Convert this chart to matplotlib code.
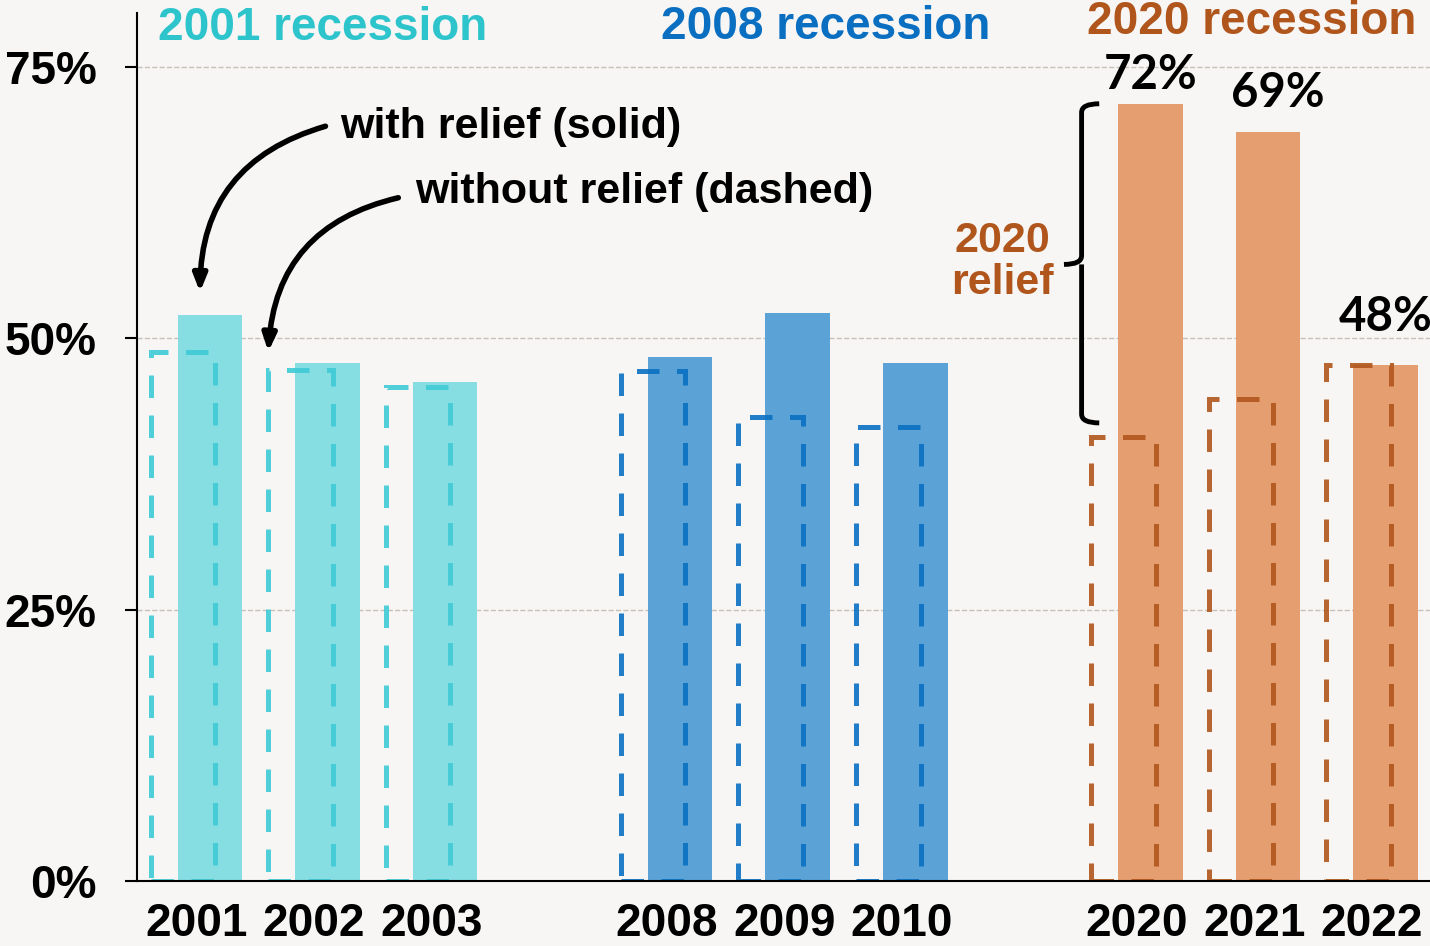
import matplotlib
matplotlib.use("Agg")
import matplotlib.pyplot as plt
from matplotlib.path import Path
from matplotlib.patches import PathPatch

plt.rcParams["font.family"] = ["Liberation Sans", "DejaVu Sans"]

years = ["2001", "2002", "2003", "2008", "2009", "2010", "2020", "2021", "2022"]
with_relief = [52.1, 47.7, 46.0, 48.3, 52.3, 47.7, 71.6, 69.0, 47.5]
without_relief = [48.7, 47.1, 45.5, 47.0, 42.7, 41.8, 40.9, 44.4, 47.5]
groups = ["2001 recession", "2008 recession", "2020 recession"]
top_labels = {"2020": "72%", "2021": "69%", "2022": "48%"}

solid_colors = ["#86DDE2", "#5BA2D6", "#E59E70"]
dash_colors = ["#3FCBD5", "#0A70C3", "#B0561C"]
group_text_colors = ["#2EC4CC", "#0B6FC1", "#B0561C"]

# three bars per recession, one empty slot between groups
x = [0, 1, 2, 4, 5, 6, 8, 9, 10]
off = 0.115
width = 0.55

fig = plt.figure(figsize=(14.3, 9.46), dpi=100)
fig.patch.set_facecolor("#F7F6F4")
ax = fig.add_axes([0.0958, 0.0687, 0.9042, 0.918])
ax.set_facecolor("#F7F6F4")

title_x = [1.07, 5.35, 8.98]
title_y = [78.6, 78.7, 79.1]
for g in range(3):
    idx = range(g * 3, g * 3 + 3)
    xs = [x[i] for i in idx]
    sc = solid_colors[g]
    ax.bar([v + off for v in xs], [with_relief[i] for i in idx], width=width,
           color=sc, zorder=2)
    ax.bar([v - off for v in xs], [without_relief[i] for i in idx], width=width,
           fill=False, edgecolor=dash_colors[g], linewidth=3.6,
           linestyle=(0, (4.5, 3.5)), alpha=0.9, zorder=3)
    ax.text(title_x[g], title_y[g], groups[g],
            color=group_text_colors[g], fontsize=33, fontweight="bold",
            ha="center", va="center")

# value labels on the 2020 bars
label_pad = {"2020": (0, 5), "2021": (7, 12), "2022": (0, 19)}
for i, yr in enumerate(years):
    if yr in top_labels:
        ax.annotate(top_labels[yr], (x[i] + off, with_relief[i]),
                    xytext=label_pad[yr], textcoords="offset points",
                    ha="center", va="bottom", fontsize=34, fontweight="bold",
                    family=["Lato", "DejaVu Sans"])

ax.set_xlim(-0.506, 10.494)
ax.set_ylim(0, 80)
ax.set_yticks([0, 25, 50, 75])
ax.set_yticklabels(["0%", "25%", "50%", "75%"])
ax.set_xticks(x)
ax.set_xticklabels(years)
ax.tick_params(axis="y", length=9, width=1.5, pad=20, labelsize=33)
ax.tick_params(axis="x", length=0, pad=15, labelsize=33)
for lab in ax.get_xticklabels() + ax.get_yticklabels():
    lab.set_fontweight("bold")

ax.grid(axis="y", color="#C9C0B8", linestyle="--", linewidth=1, zorder=0)
ax.set_axisbelow(True)
for s in ["top", "right"]:
    ax.spines[s].set_visible(False)
ax.spines["left"].set_linewidth(1.5)
ax.spines["bottom"].set_linewidth(1.5)
ax.spines["bottom"].set_zorder(5)

# arrows
arrow = dict(arrowstyle="-|>,head_length=1.0,head_width=0.4", color="black",
             lw=4, connectionstyle="arc3,rad=0.38")
ax.annotate("", xy=(0.03, 54.0), xytext=(1.12, 69.6), arrowprops=arrow)
ax.annotate("", xy=(0.61, 48.5), xytext=(1.74, 63.0), arrowprops=arrow)
ax.text(1.22, 69.5, "with relief (solid)", fontsize=31, fontweight="bold",
        ha="left", va="center")
ax.text(1.86, 63.5, "without relief (dashed)", fontsize=31, fontweight="bold",
        ha="left", va="center")

# brace for 2020 relief
top = with_relief[6]
bot = without_relief[6] + 1.3
mid = 56.8
bx = 7.53
verts = [(bx + 0.15, top), (bx, top), (bx, top - 0.8),
         (bx, mid + 0.8), (bx, mid), (bx - 0.15, mid),
         (bx, mid), (bx, mid - 0.8),
         (bx, bot + 0.8), (bx, bot), (bx + 0.15, bot)]
codes = [Path.MOVETO, Path.CURVE3, Path.CURVE3,
         Path.LINETO, Path.CURVE3, Path.CURVE3,
         Path.MOVETO, Path.CURVE3,
         Path.LINETO, Path.CURVE3, Path.CURVE3]
ax.add_patch(PathPatch(Path(verts, codes), fill=False, lw=3.5,
                       edgecolor="black", zorder=4, capstyle="butt"))
ax.text(6.86, 57.0, "2020\nrelief", color="#B0561C", fontsize=31,
        fontweight="bold", ha="center", va="center", linespacing=1.05)

fig.savefig("out.png", dpi=100, facecolor=fig.get_facecolor())
